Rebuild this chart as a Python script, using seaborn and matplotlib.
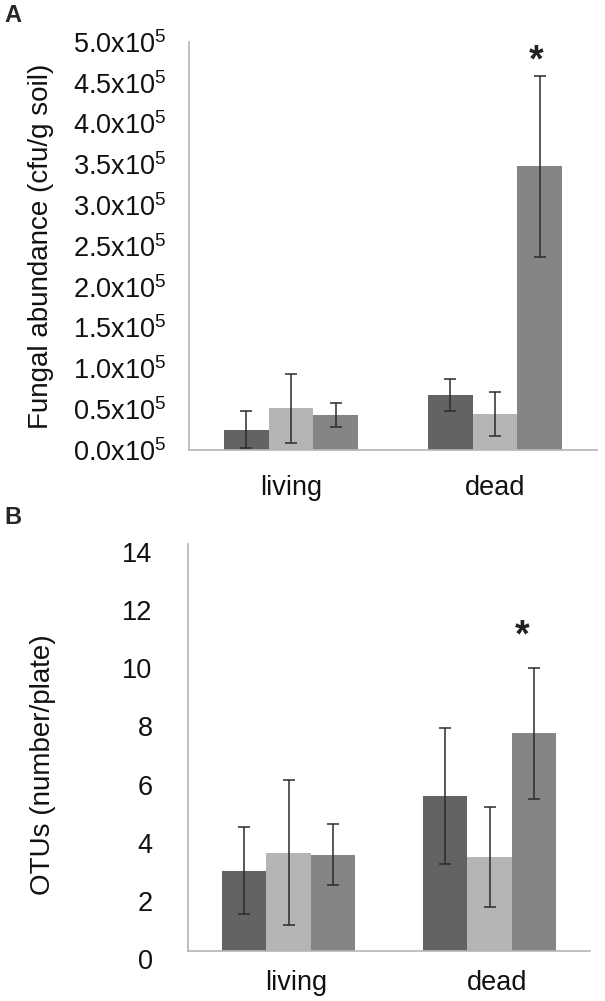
import numpy as np
import pandas as pd
import matplotlib
matplotlib.use('Agg')
import matplotlib.pyplot as plt
import matplotlib.transforms as mtransforms
from matplotlib.ticker import FuncFormatter, FixedLocator
import seaborn as sns

# data
sites = ['living', 'dead']
groups = ['g1', 'g2', 'g3']
group_colors = ['#636363', '#b5b5b5', '#858585']

# A: fungal abundance, in units of 1e5 cfu/g soil
abund_living = [0.25, 0.51, 0.43]
abund_dead = [0.67, 0.44, 3.475]
abund_err_living = [0.23, 0.42, 0.145]
abund_err_dead = [0.195, 0.27, 1.105]

# B: OTUs per plate
otu_living = [2.76, 3.38, 3.31]
otu_dead = [5.33, 3.23, 7.49]
otu_err_living = [1.49, 2.49, 1.05]
otu_err_dead = [2.34, 1.72, 2.26]

star_a = 4.89
star_b = 11.2

sns.set_style('white')
plt.rcParams['font.family'] = ['Liberation Sans', 'DejaVu Sans']
plt.rcParams['mathtext.fontset'] = 'custom'
plt.rcParams['mathtext.rm'] = 'Liberation Sans'

spine_col = '#b5b5b5'
err_col = '#2b2b2b'


def make_frame(living, dead, err_living, err_dead):
    rows = []
    for site, vals, errs in [('living', living, err_living), ('dead', dead, err_dead)]:
        for g, v, e in zip(groups, vals, errs):
            rows.append({'site': site, 'group': g, 'value': v, 'err': e})
    return pd.DataFrame(rows)


def draw_panel(ax, df, ymax, ystep):
    sns.barplot(data=df, x='site', y='value', hue='group', order=sites, hue_order=groups,
                palette=dict(zip(groups, group_colors)), saturation=1, width=0.66,
                errorbar=None, legend=False, linewidth=0, ax=ax)
    # error bars on top of the seaborn bars
    for g, cont in zip(groups, ax.containers):
        sub = df[df.group == g].set_index('site')
        for site, bar in zip(sites, sorted(cont.patches, key=lambda p: p.get_x())):
            xc = bar.get_x() + bar.get_width() / 2
            ax.errorbar(xc, bar.get_height(), yerr=sub.loc[site, 'err'], fmt='none',
                        ecolor=err_col, elinewidth=1.1, capsize=4.5, capthick=1.1, zorder=5)
    ax.set_xlim(-0.5, 1.5)
    ax.set_ylim(0, ymax)
    ax.set_yticks(np.arange(0, ymax + ystep / 2, ystep))
    ax.xaxis.set_minor_locator(FixedLocator([-0.5, 0.5, 1.5]))
    sns.despine(ax=ax)
    for s in ['left', 'bottom']:
        ax.spines[s].set_color(spine_col)
        ax.spines[s].set_linewidth(1.2)
    ax.tick_params(axis='y', which='major', direction='out', length=6.5, width=1.2,
                   color=spine_col, labelsize=19.5, labelcolor='#111111')
    ax.tick_params(axis='x', which='major', length=0, labelsize=19.5, labelcolor='#111111')
    ax.tick_params(axis='x', which='minor', direction='out', length=5, width=1.2, color=spine_col)
    ax.set_xlabel('')
    return ax


def add_star(ax, x, y):
    # centre of the asterisk glyph at (x, y)
    ax.annotate('*', xy=(x, y), xytext=(0, -15), textcoords='offset points',
                ha='center', va='baseline', fontsize=27, fontweight='bold', color='#222222')


fig = plt.figure(figsize=(6.05, 10.01), dpi=100)
W, H = 605, 1001
ax_a = fig.add_axes([189 / W, 1 - 450 / H, (597 - 189) / W, (450 - 42) / H])
ax_b = fig.add_axes([188 / W, 1 - 951 / H, (590 - 188) / W, (951 - 544) / H])

df_a = make_frame(abund_living, abund_dead, abund_err_living, abund_err_dead)
df_b = make_frame(otu_living, otu_dead, otu_err_living, otu_err_dead)

draw_panel(ax_a, df_a, 5.0, 0.5)
draw_panel(ax_b, df_b, 14, 2)

ax_a.yaxis.set_major_formatter(FuncFormatter(lambda v, p: f'{v:.1f}x10' + r'$\mathregular{^5}$'))
ax_a.tick_params(axis='y', pad=10)
ax_a.tick_params(axis='x', pad=18)
ax_b.tick_params(axis='y', pad=19)
ax_b.tick_params(axis='x', pad=13.5)

# labels
ax_a.set_ylabel('Fungal abundance (cfu/g soil)', fontsize=20, color='#111111', va='center')
ax_a.yaxis.set_label_coords(41.5 / W, 0.5,
                            transform=mtransforms.blended_transform_factory(fig.transFigure, ax_a.transAxes))
ax_b.set_ylabel('OTUs (number/plate)', fontsize=20, color='#111111', va='center')
ax_b.yaxis.set_label_coords(43.5 / W, 0.458,
                            transform=mtransforms.blended_transform_factory(fig.transFigure, ax_b.transAxes))

# B tick labels sit a little lower / right in the original
shift_down = mtransforms.ScaledTranslation(0, -8 / 100, fig.dpi_scale_trans)
for lab in ax_b.get_yticklabels():
    lab.set_transform(lab.get_transform() + shift_down)
shift_right = mtransforms.ScaledTranslation(8 / 100, 0, fig.dpi_scale_trans)
for lab in ax_b.get_xticklabels():
    lab.set_transform(lab.get_transform() + shift_right)

# significance stars over the third bar in "dead"
bar_a = sorted(ax_a.containers[2].patches, key=lambda p: p.get_x())[1]
add_star(ax_a, bar_a.get_x() + bar_a.get_width() / 2 - 0.02, star_a)
bar_b = sorted(ax_b.containers[2].patches, key=lambda p: p.get_x())[1]
add_star(ax_b, bar_b.get_x() + bar_b.get_width() / 2 - 0.06, star_b)

# panel letters
fig.text(4 / W, 1 - 22 / H, 'A', fontsize=17, fontweight='bold', va='baseline', ha='left')
fig.text(4 / W, 1 - 524 / H, 'B', fontsize=17, fontweight='bold', va='baseline', ha='left')

fig.savefig('out.png', dpi=100, facecolor='white')
